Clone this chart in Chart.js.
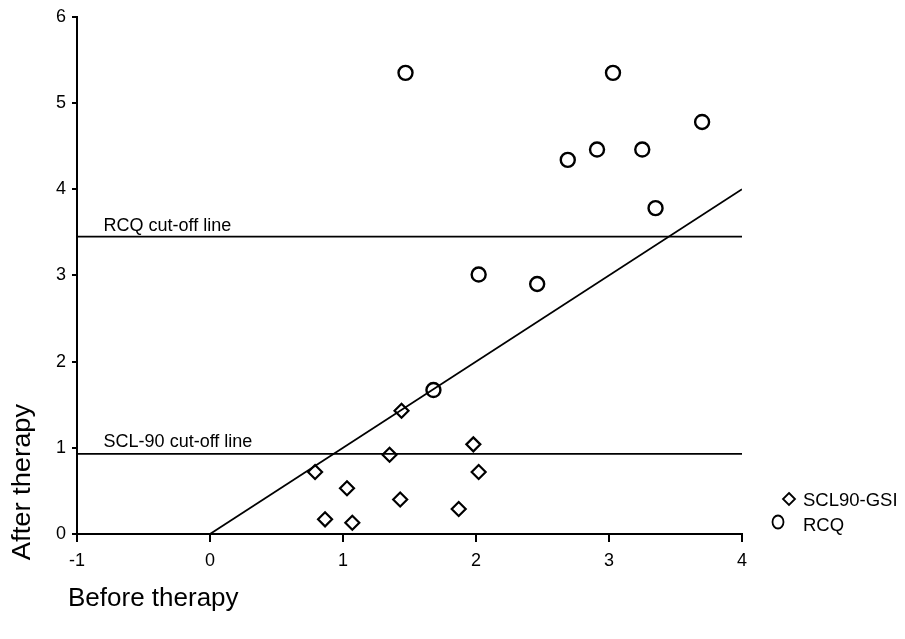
<!DOCTYPE html>
<html>
<head>
<meta charset="utf-8">
<script src="https://cdn.jsdelivr.net/npm/chart.js@4.4.0/dist/chart.umd.min.js"></script>
<style>
  body { margin: 0; background: #fff; }
  #wrap { position: relative; width: 905px; height: 639px; }
</style>
</head>
<body>
<div id="wrap"><canvas id="chart"></canvas></div>
<script>
// SCL90-GSI (diamonds)
const sclBefore = [0.79, 0.865, 1.03, 1.07, 1.44, 1.35, 1.43, 1.98, 2.02, 1.87];
const sclAfter = [0.72, 0.17, 0.53, 0.13, 1.43, 0.92, 0.40, 1.04, 0.72, 0.29];
// RCQ (circles)
const rcqBefore = [1.47, 3.03, 2.69, 2.91, 3.25, 3.70, 3.35, 2.02, 2.46, 1.68];
const rcqAfter = [5.35, 5.35, 4.34, 4.46, 4.46, 4.78, 3.78, 3.01, 2.90, 1.67];
// reference lines
const rcqCutoff = 3.45;
const sclCutoff = 0.93;
const diagX = [0, 4];
const xRange = [-1, 4];
const yRange = [0, 6];

const FONT = "'Liberation Sans', Arial, sans-serif";

const toPts = (xs, ys) => xs.map((x, i) => ({ x: x, y: ys[i] }));

const lineSet = (pts) => ({
  type: "line",
  data: pts,
  borderColor: "#000",
  borderWidth: 1.8,
  pointRadius: 0,
  fill: false,
});

const extras = {
  id: "extras",
  afterDraw(chart) {
    const ctx = chart.ctx;
    const xs = chart.scales.x;
    const ys = chart.scales.y;
    const area = chart.chartArea;
    ctx.save();
    ctx.fillStyle = "#000";
    ctx.textAlign = "left";
    ctx.textBaseline = "alphabetic";
    ctx.font = "18px " + FONT;
    ctx.fillText("RCQ cut-off line", xs.getPixelForValue(-0.8), ys.getPixelForValue(rcqCutoff) - 6);
    ctx.fillText("SCL-90 cut-off line", xs.getPixelForValue(-0.8), ys.getPixelForValue(sclCutoff) - 7);

    // axis titles
    ctx.font = "26px " + FONT;
    ctx.fillText("Before therapy", 68, 606);
    ctx.save();
    ctx.translate(30, 482);
    ctx.rotate(-Math.PI / 2);
    ctx.textAlign = "center";
    ctx.scale(1.05, 1);
    ctx.fillText("After therapy", 0, 0);
    ctx.restore();

    // legend
    ctx.strokeStyle = "#000";
    ctx.lineWidth = 1.8;
    const lx = area.right;
    ctx.beginPath();
    ctx.moveTo(lx + 47, 499 - 6);
    ctx.lineTo(lx + 53, 499);
    ctx.lineTo(lx + 47, 499 + 6);
    ctx.lineTo(lx + 41, 499);
    ctx.closePath();
    ctx.stroke();
    ctx.beginPath();
    ctx.ellipse(lx + 36, 522, 5.5, 6.5, 0, 0, Math.PI * 2);
    ctx.stroke();
    ctx.font = "18.5px " + FONT;
    ctx.textBaseline = "middle";
    ctx.fillText("SCL90-GSI", lx + 61, 501);
    ctx.fillText("RCQ", lx + 61, 526);
    ctx.restore();
  },
};

new Chart(document.getElementById("chart"), {
  type: "scatter",
  data: {
    datasets: [
      {
        label: "SCL90-GSI",
        data: toPts(sclBefore, sclAfter),
        pointStyle: "rectRot",
        pointRadius: 7,
        pointBorderWidth: 2.2,
        pointBorderColor: "#000",
        pointBackgroundColor: "rgba(255,255,255,0)",
      },
      {
        label: "RCQ",
        data: toPts(rcqBefore, rcqAfter),
        pointStyle: "circle",
        pointRadius: 7,
        pointBorderWidth: 2.4,
        pointBorderColor: "#000",
        pointBackgroundColor: "rgba(255,255,255,0)",
      },
      lineSet(toPts(xRange, [rcqCutoff, rcqCutoff])),
      lineSet(toPts(xRange, [sclCutoff, sclCutoff])),
      lineSet(toPts(diagX, diagX)),
    ],
  },
  options: {
    responsive: true,
    maintainAspectRatio: false,
    animation: false,
    layout: { padding: { left: 0, top: 14, right: 163, bottom: 0 } },
    plugins: {
      legend: { display: false },
      tooltip: { enabled: false },
    },
    scales: {
      x: {
        type: "linear",
        min: xRange[0],
        max: xRange[1],
        afterFit: (s) => { s.height = 105; },
        ticks: {
          stepSize: 1,
          color: "#000",
          padding: 8,
          font: { family: FONT, size: 18 },
        },
        grid: { drawOnChartArea: false, drawTicks: true, tickLength: 8, color: "#000", lineWidth: 2 },
        border: { display: true, color: "#000", width: 2 },
      },
      y: {
        type: "linear",
        min: yRange[0],
        max: yRange[1],
        afterFit: (s) => { s.width = 77; },
        ticks: {
          stepSize: 1,
          color: "#000",
          padding: 6,
          font: { family: FONT, size: 18 },
        },
        grid: { drawOnChartArea: false, drawTicks: true, tickLength: 5, color: "#000", lineWidth: 2 },
        border: { display: true, color: "#000", width: 2 },
      },
    },
  },
  plugins: [extras],
});
</script>
</body>
</html>
